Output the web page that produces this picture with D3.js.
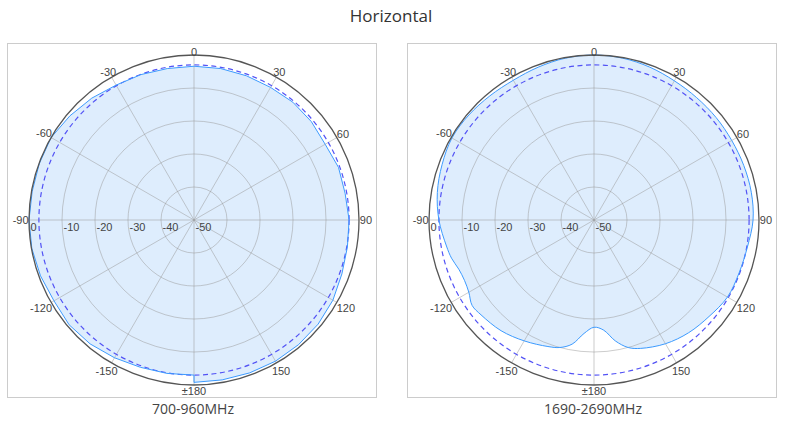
<!DOCTYPE html>
<html>
<head>
<meta charset="utf-8">
<script src="https://cdn.jsdelivr.net/npm/d3@7"></script>
<style>
body { margin: 0; background: #fff; }
</style>
</head>
<body>
<div id="chart"></div>
<script>

// Horizontal radiation pattern, relative gain in dB against azimuth in degrees
var lowAngles = [-180, -170, -160, -150, -140, -130, -120, -110, -100, -90, -80, -70, -60, -50, -40, -30, -20, -10,
	0, 10, 20, 30, 40, 50, 60, 70, 80, 90, 100, 110, 120, 130, 140, 150, 160, 170, 180];
var lowGain = [-3.0, -2.8, -2.5, -1.8, -1.0, -0.6, -1.0, -0.5, -0.1, 0, -0.2, -0.1, 0, -0.9, -1.8, -2.8, -3.1, -3.4,
	-3.4, -3.4, -3.5, -3.6, -3.4, -3.6, -4.1, -3.4, -3.5, -3.0, -2.8, -2.3, -1.4, -0.9, -0.7, -0.6, -0.7, -0.8, -0.8];

var highAngles = [-180, -175, -170, -165, -160, -150, -140, -130, -125, -120, -115, -110, -105, -100, -90, -80, -70, -60, -50, -40, -30, -20, -10,
	0, 10, 20, 30, 40, 50, 60, 70, 80, 90, 100, 110, 120, 130, 140, 150, 160, 165, 170, 175];
var highGain = [-17.5, -15.5, -11.8, -10.0, -9.2, -7.7, -6.2, -5.3, -4.9, -6.2, -6.7, -6.4, -5.3, -4.6, -3.0, -1.8, -1.0, -0.3, -0.5, -0.9, -1.1, -0.7, -0.2,
	0, -0.2, -0.7, -1.3, -1.6, -1.7, -1.8, -1.7, -1.6, -1.8, -2.8, -3.2, -3.3, -4.5, -5.4, -6.7, -8.6, -10.0, -12.8, -16.5];

var angleTicks = [0, 30, 60, 90, 120, 150, 180, -150, -120, -90, -60, -30];
var ringTicks = [0, -10, -20, -30, -40, -50];
var halfPower = -3;

var width = 786,
	height = 430,
	R = 165;

var panels = [
	{ x: 7, y: 43, caption: "700-960MHz", angles: lowAngles, gain: lowGain, curve: d3.curveLinearClosed },
	{ x: 407, y: 43, caption: "1690-2690MHz", angles: highAngles, gain: highGain, curve: d3.curveCatmullRomClosed.alpha(0.5) }
];
var boxW = 369, boxH = 354;

var svg = d3.select("#chart")
	.append("svg")
	.attr("width", width)
	.attr("height", height);

svg.append("text")
	.attr("x", 391)
	.attr("y", 22)
	.attr("text-anchor", "middle")
	.style("font-family", "'Open Sans', sans-serif")
	.style("font-size", "17px")
	.style("fill", "#333")
	.text("Horizontal");

//Radius from dB, angle from degrees
var rScale = d3.scaleLinear().domain([-50, 0]).range([0, R]);
var aScale = d3.scaleLinear().domain([-180, 180]).range([-Math.PI, Math.PI]);

panels.forEach(function(p) {

	svg.append("rect")
	.attr("x", p.x + 0.5)
	.attr("y", p.y + 0.5)
	.attr("width", boxW)
	.attr("height", boxH)
	.attr("fill", "none")
	.attr("stroke", "#ccc");

	svg.append("text")
	.attr("x", p.x + boxW / 2 + 1.5)
	.attr("y", p.y + boxH + 17)
	.attr("text-anchor", "middle")
	.style("font-family", "'Open Sans', sans-serif")
	.style("font-size", "14px")
	.style("fill", "#444")
	.text(p.caption);

	var cx = p.x + boxW / 2 + 2.5,
	cy = p.y + 177;

	var g = svg.append("g")
	.attr("transform", "translate(" + cx + "," + cy + ")");

	var pts = p.angles.map(function(a, i) { return { a: a, v: p.gain[i] }; });

	var line = d3.lineRadial()
	.angle(function(d) { return aScale(d.a); })
	.radius(function(d) { return rScale(d.v); })
	.curve(p.curve);

	//Filled pattern
	g.append("path")
	.attr("d", line(pts))
	.attr("fill", "#deedfd")
	.attr("stroke", "none");

	//Rings
	g.selectAll(".ring")
	.data(ringTicks.filter(function(t) { return t > -50 && t < 0; }))
	.enter()
	.append("circle")
	.attr("class", "ring")
	.attr("r", function(d) { return rScale(d); })
	.attr("fill", "none")
	.attr("stroke", "#999")
	.attr("stroke-opacity", 0.5);

	//Spokes
	g.selectAll(".spoke")
	.data(angleTicks)
	.enter()
	.append("line")
	.attr("class", "spoke")
	.attr("x1", 0)
	.attr("y1", 0)
	.attr("x2", function(d) { return R * Math.sin(aScale(d)); })
	.attr("y2", function(d) { return -R * Math.cos(aScale(d)); })
	.attr("stroke", "#999")
	.attr("stroke-opacity", 0.5);

	//-3 dB reference
	g.append("circle")
	.attr("r", rScale(halfPower))
	.attr("fill", "none")
	.attr("stroke", "#5252f5")
	.attr("stroke-width", 1.2)
	.attr("stroke-dasharray", "5,3.5");

	g.append("path")
	.attr("d", line(pts))
	.attr("fill", "none")
	.attr("stroke", "#3d9bff")
	.attr("stroke-width", 1);

	//Outer circle
	g.append("circle")
	.attr("r", R)
	.attr("fill", "none")
	.attr("stroke", "#555")
	.attr("stroke-width", 1.3);

	//dB labels along the left horizontal
	g.selectAll(".rlabel")
	.data(ringTicks)
	.enter()
	.append("text")
	.attr("class", "rlabel")
	.attr("x", function(d) { return -rScale(d) + 1.5; })
	.attr("y", 11)
	.style("font-family", "'Liberation Sans', sans-serif")
	.style("font-size", "11px")
	.style("fill", "#444")
	.text(function(d) { return d; });

	//Angle labels round the outside
	g.selectAll(".alabel")
	.data(angleTicks)
	.enter()
	.append("text")
	.attr("class", "alabel")
	.attr("text-anchor", "middle")
	.attr("dominant-baseline", "central")
	.style("font-family", "'Liberation Sans', sans-serif")
	.style("font-size", "11px")
	.style("fill", "#444")
	.text(function(d) { return d === 180 ? "\u00b1180" : d; })
	.each(function(d) {
		var w = this.getComputedTextLength(),
		t = aScale(d),
		s = Math.sin(t),
		c = Math.cos(t);
		var r = R + 2 + 0.4 * w * Math.abs(s) + (c > 0 ? 1.5 * c : 4 * -c);
		d3.select(this)
		.attr("x", r * s)
		.attr("y", -r * c);
	});
});

</script>
</body>
</html>
